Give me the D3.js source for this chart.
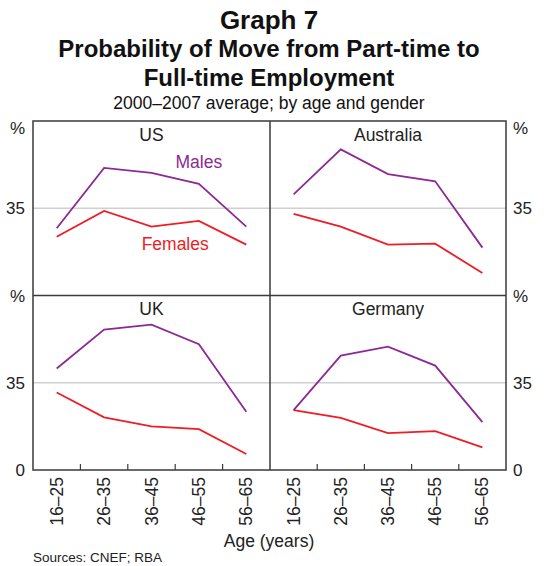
<!DOCTYPE html>
<html>
<head>
<meta charset="utf-8">
<script src="https://cdn.jsdelivr.net/npm/d3@7"></script>
<style>
  body { margin: 0; background: #fff; }
  svg { font-family: Arial, "Liberation Sans", Helvetica, sans-serif; }
</style>
</head>
<body>
<svg id="chart" width="545" height="566"></svg>
<script>
// age groups on the x axis
var ages = ["16–25", "26–35", "36–45", "46–55", "56–65"];

// probability of move, per cent
var usMales = [27.0, 51.2, 49.2, 44.8, 27.6];
var usFemales = [23.6, 33.9, 27.6, 29.9, 20.4];
var auMales = [40.6, 58.6, 48.7, 45.8, 19.2];
var auFemales = [32.7, 27.6, 20.4, 20.8, 9.0];
var ukMales = [40.7, 56.3, 58.3, 50.5, 23.4];
var ukFemales = [31.1, 21.1, 17.5, 16.4, 6.4];
var deMales = [24.0, 45.9, 49.5, 41.9, 19.2];
var deFemales = [24.0, 20.9, 14.8, 15.6, 9.1];

var yTicks = [0, 35, 70];

var panels = [
  {name: "US", males: usMales, females: usFemales, col: 0, row: 0},
  {name: "Australia", males: auMales, females: auFemales, col: 1, row: 0},
  {name: "UK", males: ukMales, females: ukFemales, col: 0, row: 1},
  {name: "Germany", males: deMales, females: deFemales, col: 1, row: 1}
];

var plotL = 33, plotM = 270, plotR = 506;
var plotT = 121, plotMY = 295.5, plotB = 470;
var maleCol = "#8b2a94", femaleCol = "#ee1c25", frameCol = "#3a3a3a";

var svg = d3.select("#chart");

// titles
var titles = [
  {t: "Graph 7", y: 29, size: 26, w: "bold"},
  {t: "Probability of Move from Part-time to", y: 57, size: 24, w: "bold"},
  {t: "Full-time Employment", y: 86, size: 24, w: "bold"},
  {t: "2000–2007 average; by age and gender", y: 109, size: 17.5, w: "normal"}
];
svg.selectAll("text.title").data(titles).enter().append("text")
  .attr("class", "title")
  .attr("x", 269).attr("y", d => d.y)
  .attr("text-anchor", "middle")
  .attr("font-size", d => d.size)
  .attr("font-weight", d => d.w)
  .attr("fill", "#111")
  .text(d => d.t);

var line = d3.line();

panels.forEach(function(p) {
  var x0 = p.col == 0 ? plotL : plotM, x1 = p.col == 0 ? plotM : plotR;
  var y0 = p.row == 0 ? plotT : plotMY, y1 = p.row == 0 ? plotMY : plotB;

  var x = d3.scaleBand().domain(ages).range([x0, x1]);
  var y = d3.scaleLinear().domain([0, 70]).range([y1, y0]);

  var g = svg.append("g");

  // 35 gridline
  g.append("line")
    .attr("x1", x0).attr("x2", x1)
    .attr("y1", y(35)).attr("y2", y(35))
    .attr("stroke", "#d0d0d0").attr("stroke-width", 1.5);

  // ticks between categories on the bottom row
  if (p.row == 1) {
    g.selectAll("line.tk").data(ages.slice(1)).enter().append("line")
      .attr("x1", d => x(d)).attr("x2", d => x(d))
      .attr("y1", y1).attr("y2", y1 - 6)
      .attr("stroke", frameCol).attr("stroke-width", 1.2);
  }

  var pts = function(vals) {
    return vals.map((v, i) => [x(ages[i]) + x.bandwidth() / 2, y(v)]);
  };

  g.append("path").attr("d", line(pts(p.females)))
    .attr("fill", "none").attr("stroke", femaleCol).attr("stroke-width", 1.8);
  g.append("path").attr("d", line(pts(p.males)))
    .attr("fill", "none").attr("stroke", maleCol).attr("stroke-width", 1.8);

  g.append("text")
    .attr("x", (x0 + x1) / 2).attr("y", y0 + 19.5)
    .attr("text-anchor", "middle").attr("font-size", 17.5)
    .attr("fill", "#222")
    .text(p.name);

  if (p.name == "US") {
    g.append("text")
      .attr("x", x("46–55") + x.bandwidth() / 2).attr("y", y(51))
      .attr("text-anchor", "middle").attr("font-size", 17.5)
      .attr("fill", maleCol).text("Males");
    g.append("text")
      .attr("x", x("46–55")).attr("y", y(18.4))
      .attr("text-anchor", "middle").attr("font-size", 17.5)
      .attr("fill", femaleCol).text("Females");
  }

  // y-axis labels
  [[plotL, "end", -8], [plotR, "start", 7]].forEach(function(side) {
    var tx = side[0] + side[2];
    yTicks.forEach(function(t) {
      if (t == 0 && p.row == 0) return;
      if (side[0] == plotL && p.col == 1) return;
      if (side[0] == plotR && p.col == 0) return;
      var lab = t == 70 ? "%" : String(t);
      var yy = y(t) + 6;
      if (t == 70 && p.row == 0) yy = y0 + 12.5;
      svg.append("text")
        .attr("x", tx).attr("y", yy)
        .attr("text-anchor", side[1]).attr("font-size", 17)
        .attr("fill", "#222").text(lab);
    });
  });

  // x-axis labels
  if (p.row == 1) {
    g.selectAll("text.xl").data(ages).enter().append("text")
      .attr("transform", d => "translate(" + (x(d) + x.bandwidth() / 2 + 6) + "," + (y1 + 7) + ") rotate(-90)")
      .attr("text-anchor", "end").attr("font-size", 17.5)
      .attr("fill", "#222").text(d => d);
  }
});

// frame
svg.append("rect")
  .attr("x", plotL).attr("y", plotT)
  .attr("width", plotR - plotL).attr("height", plotB - plotT)
  .attr("fill", "none").attr("stroke", frameCol).attr("stroke-width", 1.5);
svg.append("line")
  .attr("x1", plotM).attr("x2", plotM).attr("y1", plotT).attr("y2", plotB)
  .attr("stroke", frameCol).attr("stroke-width", 1.5);
svg.append("line")
  .attr("x1", plotL).attr("x2", plotR).attr("y1", plotMY).attr("y2", plotMY)
  .attr("stroke", frameCol).attr("stroke-width", 1.5);

svg.append("text")
  .attr("x", 269).attr("y", 547)
  .attr("text-anchor", "middle").attr("font-size", 17.5)
  .attr("fill", "#222").text("Age (years)");

svg.append("text")
  .attr("x", 33).attr("y", 562)
  .attr("font-size", 13.5)
  .attr("fill", "#222").text("Sources: CNEF; RBA");
</script>
</body>
</html>
